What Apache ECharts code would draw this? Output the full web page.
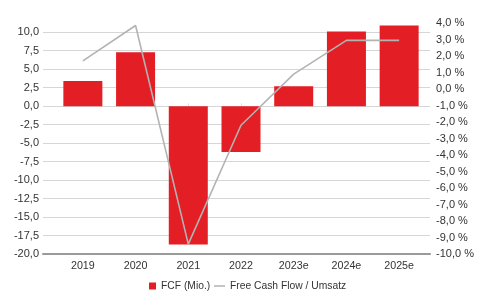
<!DOCTYPE html>
<html>
<head>
<meta charset="utf-8">
<script src="https://cdn.jsdelivr.net/npm/echarts@6/dist/echarts.min.js"></script>
<style>
    html, body { margin: 0; padding: 0; background: #fff; }
    #chart { width: 477px; height: 293px; }
</style>
</head>
<body>
<div id="chart"></div>
<script>
// Jahre
var categories = ['2019', '2020', '2021', '2022', '2023e', '2024e', '2025e'];
// FCF in Mio.
var fcfValues = [3.4, 7.3, -18.7, -6.2, 2.7, 10.1, 10.9];
// Free Cash Flow / Umsatz in %
var fcfMarginValues = [1.7, 3.85, -9.4, -2.2, 0.9, 2.95, 2.95];

var fontName = '"Liberation Sans", Arial, sans-serif';
var textColor = '#333';
var legendText = { color: textColor, fontSize: 10.3, fontFamily: fontName };

function deNum(v) {
    return v.toFixed(1).replace('.', ',');
}

var chart = echarts.init(document.getElementById('chart'));
var option = {
    animation: false,
    textStyle: { fontFamily: fontName },
    // zwei Legenden, damit Quadrat und Linie unterschiedlich breit sein koennen
    legend: [
        {
            top: 276,
            left: 144,
            itemWidth: 7,
            itemHeight: 7,
            textStyle: legendText,
            data: [{ name: 'FCF (Mio.)', icon: 'rect' }]
        },
        {
            top: 276,
            left: 209,
            itemWidth: 11,
            itemHeight: 7,
            textStyle: legendText,
            data: [{ name: 'Free Cash Flow / Umsatz', icon: 'path://M0,0H11V1.5H0Z', itemStyle: { color: '#b3b3b3' } }]
        }
    ],
    // grid 0: gridlines + beide y-Achsen, grid 1: Balken / Linie
    grid: [
        { left: 43, right: 40, top: 23, bottom: 39 },
        { left: 56.5, right: 51.5, top: 23, bottom: 39 }
    ],
    xAxis: [
        {
            gridIndex: 0,
            type: 'value',
            min: 0,
            max: 1,
            axisLine: { show: true, onZero: false, lineStyle: { color: '#9a9a9a', width: 2 } },
            axisTick: { show: false },
            axisLabel: { show: false },
            splitLine: { show: false }
        },
        {
            gridIndex: 1,
            type: 'category',
            data: categories,
            axisLine: { show: false },
            axisTick: { show: true, alignWithLabel: true, inside: true, length: 3, lineStyle: { color: '#e0e0e0' } },
            axisLabel: { color: textColor, fontSize: 10.7, margin: 7, fontFamily: fontName }
        }
    ],
    yAxis: [
        {
            gridIndex: 0,
            type: 'value',
            position: 'left',
            min: -20,
            max: 11.25,
            interval: 2.5,
            axisLine: { show: false },
            axisTick: { show: false },
            axisLabel: {
                color: textColor,
                fontSize: 11,
                margin: 4,
                showMaxLabel: false,
                fontFamily: fontName,
                formatter: function(v) {
                    return deNum(v);
                }
            },
            splitLine: { show: true, showMaxLine: false, lineStyle: { color: '#d6d6d6', width: 1 } }
        },
        {
            gridIndex: 0,
            type: 'value',
            position: 'right',
            min: -10,
            max: 4,
            interval: 1,
            axisLine: { show: false },
            axisTick: { show: false },
            splitLine: { show: false },
            axisLabel: {
                color: textColor,
                fontSize: 11,
                margin: 6,
                fontFamily: fontName,
                formatter: function(v) {
                    return deNum(v) + ' %';
                }
            }
        },
        {
            gridIndex: 1,
            type: 'value',
            min: -20,
            max: 11.25,
            show: false
        },
        {
            gridIndex: 1,
            type: 'value',
            min: -10,
            max: 4,
            show: false
        }
    ],
    series: [
        {
            name: 'FCF (Mio.)',
            type: 'bar',
            xAxisIndex: 1,
            yAxisIndex: 2,
            barWidth: 39,
            itemStyle: { color: '#e31e24' },
            data: fcfValues
        },
        {
            name: 'Free Cash Flow / Umsatz',
            type: 'line',
            xAxisIndex: 1,
            yAxisIndex: 3,
            symbol: 'none',
            lineStyle: { color: '#b3b3b3', width: 1.6 },
            itemStyle: { color: '#b3b3b3' },
            data: fcfMarginValues
        }
    ]
};
chart.setOption(option);
</script>
</body>
</html>
